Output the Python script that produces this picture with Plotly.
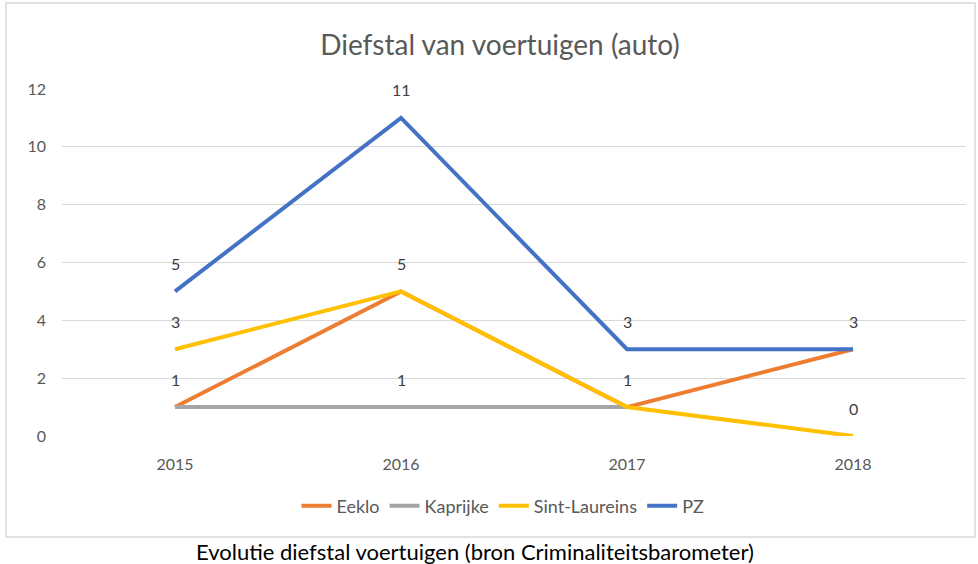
import plotly.graph_objects as go

years = ["2015", "2016", "2017", "2018"]
series_names = ["Eeklo", "Kaprijke", "Sint-Laureins", "PZ"]
eeklo = [1, 5, 1, 3]
kaprijke = [1, 1, 1, None]
sint_laureins = [3, 5, 1, 0]
pz = [5, 11, 3, 3]
colors = ["#ED7D31", "#A5A5A5", "#FFC000", "#4472C4"]
y_ticks = [0, 2, 4, 6, 8, 10, 12]

title = "Diefstal van voertuigen (auto)"
caption = "Evolutie diefstal voertuigen (bron Criminaliteitsbarometer)"

FONT = "Lato"
all_series = [eeklo, kaprijke, sint_laureins, pz]

fig = go.Figure()
annotations = []
seen = set()
for name, vals, col in zip(series_names, all_series, colors):
    fig.add_trace(go.Scatter(
        x=years, y=vals, name=name, mode="lines",
        line=dict(color=col, width=4), connectgaps=False,
        hoverinfo="x+y+name",
    ))
    for i, yv in enumerate(vals):
        if yv is None or (i, yv) in seen:
            continue
        seen.add((i, yv))
        annotations.append(dict(
            x=i, y=yv, xref="x", yref="y", text=str(yv), showarrow=False,
            yshift=28, font=dict(family=FONT, size=16, color="#404040"),
        ))

annotations.append(dict(
    x=(475 - 62) / 904, y=(436 - 551) / 347, xref="paper", yref="paper", text=caption,
    showarrow=False, font=dict(family=FONT, size=22, color="#000000"),
    xanchor="center", yanchor="middle",
))

fig.update_layout(
    width=978, height=564,
    paper_bgcolor="white", plot_bgcolor="white",
    margin=dict(l=62, r=12, t=89, b=128),
    title=dict(text=title, x=(500 - 62) / 904, xref="paper", xanchor="center",
               y=(564 - 45) / 564, yanchor="middle",
               font=dict(family=FONT, size=28, color="#595959")),
    xaxis=dict(type="category", range=[-0.5, 3.5], showgrid=False, showline=False,
               zeroline=False, ticks="", ticklabelstandoff=17,
               tickfont=dict(family=FONT, size=16, color="#595959")),
    yaxis=dict(range=[0, 12], tickvals=y_ticks, showgrid=True, gridcolor="#D9D9D9",
               gridwidth=1, zeroline=False, showline=False, ticks="",
               ticklabelstandoff=15,
               tickfont=dict(family=FONT, size=16, color="#595959")),
    legend=dict(orientation="h", x=(503 - 62) / 904, xanchor="center", y=(436 - 506) / 347,
                yanchor="middle", font=dict(family=FONT, size=18, color="#595959"),
                itemwidth=30, traceorder="normal"),
    annotations=annotations,
    shapes=[dict(type="rect", xref="paper", yref="paper",
                 x0=(6 - 62) / 904, x1=(975 - 62) / 904,
                 y0=(436 - 537) / 347, y1=(436 - 3) / 347,
                 line=dict(color="#D9D9D9", width=1.5), layer="below")],
    showlegend=True,
)

fig.write_html("out.html", config={"displayModeBar": False},
               post_script="document.body.style.margin='0';document.body.style.overflow='hidden';")
